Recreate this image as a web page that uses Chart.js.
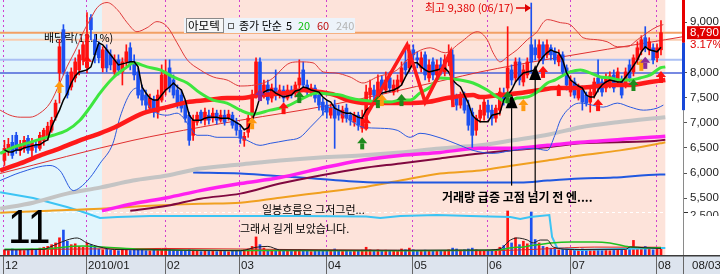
<!DOCTYPE html>
<html><head><meta charset="utf-8">
<script src="https://cdn.jsdelivr.net/npm/chart.js@4.4.1/dist/chart.umd.min.js"></script>
<style>html,body{margin:0;padding:0;background:#fff;}#wrap{width:720px;height:274px;position:relative;}</style>
</head><body><div id="wrap"><canvas id="c" width="720" height="274"></canvas></div>
<script>
// ---------------- DATA ----------------
const monthStartIdx=[0,21,41,60,82,104,123,144,166];
const monthLabels=['12','2010/01','02','03','04','05','06','07','08'];
const lastDateLabel='08/03';
const priceTicks=[5500,6000,6500,7000,7500,8000,9000];
const volTickLabel='2,500', volTickValue=2500;
const lastPrice=8790, lastChange='3.17%';
const highNote='최고 9,380 (06/17)';

const openP=[6250,6450,6610,6750,6450,6490,6690,6450,6550,6490,6650,6710,6850,7110,7990,8850,7950,7710,7890,8050,
8250,8250,9090,8650,8550,8090,8450,8350,8010,8250,8010,8210,8490,8210,8010,7650,7550,7290,7450,7210,
7450,7650,8090,7850,7650,7550,7350,7150,6750,7010,7210,7050,7150,7090,7190,7050,7150,7090,7150,7010,
6850,6650,6810,7150,7550,8210,7610,7750,7490,7690,7550,7650,7490,7650,7590,7750,8050,7750,7610,7690,
7550,7410,7350,7150,7350,7250,7090,7290,7150,7010,7150,6890,7050,7550,7650,7550,7850,7650,7890,7610,
7690,7810,8210,8090,8450,8290,8090,8350,7890,8210,7950,8150,8010,8210,8350,7490,7350,7550,7350,7210,
6850,7090,7150,7350,7250,7090,7250,7550,7690,8050,7890,8210,7810,7950,8550,8490,8290,8550,8350,8490,
8410,8210,8350,8090,7610,7810,7490,7650,7550,7410,7550,7890,7810,7690,7750,7950,7810,7850,7750,8150,
8010,8250,8450,8690,8450,8490,8290,8450];
const highP=[6650,6690,6750,6810,6650,6730,6750,6690,6650,6810,6890,7010,7110,7450,8650,8950,8010,8090,8290,8450,
8610,9190,9150,8750,8610,8510,8550,8450,8350,8350,8290,8550,8590,8350,8090,7750,7650,7570,7530,7650,
8150,8250,8250,7950,7750,7650,7450,7210,7150,7210,7250,7290,7250,7290,7250,7250,7250,7250,7210,7090,
6930,6810,7150,7650,8290,8290,7850,7850,7770,8050,7750,7730,7750,7730,7810,8250,8210,7850,7770,7750,
7610,7490,7450,7370,7450,7350,7330,7370,7210,7210,7210,7250,7750,7850,7750,7950,7930,8010,8010,7850,
7950,8210,8450,8550,8550,8410,8410,8410,8250,8290,8250,8290,8350,8550,8450,7570,7610,7610,7450,7290,
7150,7350,7490,7450,7350,7350,7690,7690,8910,8150,8290,8290,8150,8290,9380,8650,8650,8610,8650,8550,
8490,8450,8410,8150,7930,7890,7770,7730,7610,7690,7890,8250,7890,7970,8010,8050,8090,7930,8090,8250,
8350,8610,8730,8910,8690,8570,8570,9030];
const lowP=[6150,6350,6290,6390,6350,6410,6390,6250,6410,6450,6550,6650,6810,7050,7390,7950,7490,7650,7810,7950,
8150,7990,8650,8190,8190,8010,8010,8050,7930,7950,7750,8130,8050,7850,7490,7350,7250,7210,7110,7090,
7410,7550,7610,7490,7290,7210,7010,6550,6650,6950,6990,6950,6970,7010,6970,7010,6950,7050,6890,6750,
6590,6530,6710,7090,7490,7450,7490,7370,7410,7450,7490,7410,7450,7490,7510,7690,7690,7550,7530,7410,
7250,7150,7090,7090,6490,7050,7010,7010,6950,6930,6850,6810,6850,7450,7450,7490,7550,7590,7610,7550,
7610,7750,7950,8010,8250,8090,8010,7850,7810,7850,7890,7950,7930,8130,7350,7250,7290,7190,6850,6510,
6750,7010,7050,7090,6950,7010,7150,7350,7610,7750,7810,7750,7730,7890,7990,8250,8210,8170,8290,8250,
8170,8130,7930,7650,7530,7490,7450,7250,7330,7210,7490,7610,7530,7610,7690,7610,7750,7490,7690,7810,
7930,8170,8350,8410,8350,8170,8210,8350];
const closeP=[6490,6570,6350,6450,6530,6650,6450,6610,6510,6750,6850,6930,7050,7390,8510,8010,7550,8010,8210,8350,
8550,8750,8850,8350,8290,8450,8090,8150,8250,8050,8210,8410,8150,7950,7550,7450,7350,7490,7210,7550,
7950,8010,7690,7550,7350,7290,7090,6650,7050,7150,7050,7210,7050,7190,7050,7150,7010,7170,6950,6850,
6690,6730,7090,7550,8210,7550,7750,7450,7690,7550,7650,7490,7650,7550,7750,7890,7750,7610,7690,7490,
7350,7250,7210,7290,7090,7150,7250,7090,7050,7150,6950,7090,7610,7690,7550,7810,7650,7850,7690,7750,
7850,8090,8050,8410,8350,8250,8290,7950,8150,7950,8150,8010,8250,8350,7450,7350,7550,7250,6950,6750,
7090,7250,7410,7210,7090,7290,7610,7450,8090,7850,8210,7850,8050,8210,8210,8350,8550,8250,8550,8350,
8250,8350,8010,7750,7850,7550,7690,7410,7390,7610,7810,7690,7610,7890,7930,7690,8010,7550,8010,7890,
8290,8490,8650,8490,8610,8250,8490,8790];
const volumes=[300,250,350,280,320,260,300,350,280,400,450,500,600,700,1000,1450,800,600,650,500,450,
700,600,450,350,300,350,280,300,250,320,280,260,300,350,280,250,240,300,260,350,
400,300,280,260,250,270,300,280,220,200,240,210,230,200,220,210,190,230,250,
280,300,350,500,1050,600,400,300,280,350,250,220,230,210,240,300,280,220,200,230,250,260,
250,220,350,240,210,230,200,220,250,280,450,300,260,300,250,280,240,220,260,350,300,400,
300,260,240,280,250,230,220,240,260,300,400,350,280,300,350,400,300,250,260,
280,300,320,450,550,2560,700,1000,600,800,650,2500,900,700,500,450,400,350,300,350,400,
320,300,280,350,300,280,320,300,260,280,250,300,280,350,300,380,850,450,400,500,350,300,
350,420];
const ma5=[6460,6420,6420,6460,6460,6500,6520,6540,6560,6560,6620,6660,6920,7090,7250,7450,7590,7790,7930,8010,
8030,8050,8110,8350,8590,8550,8450,8350,8250,8150,8170,8190,8210,8210,8110,7710,7590,7490,7450,7450,
7550,7650,7710,7790,7710,7650,7450,7150,7050,7050,7050,7090,7110,7110,7110,7090,7090,7090,7050,7000,
6960,6860,6900,7050,7250,7510,7610,7650,7650,7590,7550,7510,7530,7550,7630,7650,7710,7690,7650,7630,
7610,7510,7450,7410,7290,7250,7210,7190,7190,7150,7110,7090,7250,7310,7390,7490,7590,7610,7630,7650,
7690,7750,7910,8050,8190,8190,8110,8050,8010,8030,8050,8070,8090,8010,7850,7770,7710,7550,7390,7150,
7070,7020,7020,7020,7150,7170,7190,7450,7550,7650,7810,7910,7990,8010,8030,8050,8210,8310,8390,8450,
8410,8390,8250,7990,7850,7790,7730,7690,7550,7510,7510,7650,7750,7810,7850,7830,7810,7810,7910,8010,
8130,8250,8410,8510,8450,8430,8410,8500];
const ma20=[{x:-1.1,y:6390},{x:2.2,y:6510},{x:6.5,y:6610},{x:9.8,y:6690},{x:12.4,y:6750},{x:15.9,y:6850},{x:19.2,y:7050},{x:21.8,y:7310},{x:24.3,y:7590},{x:27.6,y:7890},{x:31.2,y:8110},{x:32.7,y:8190},{x:36.3,y:8110},{x:39.6,y:8050},{x:42.9,y:7910},{x:46.5,y:7790},{x:49.8,y:7590},{x:53.1,y:7450},{x:56.6,y:7390},{x:60,y:7250},{x:63.3,y:7170},{x:67.6,y:7250},{x:71.9,y:7330},{x:76,y:7490},{x:79.5,y:7590},{x:82.8,y:7570},{x:85.4,y:7550},{x:87.9,y:7490},{x:90.5,y:7450},{x:98.1,y:7410},{x:100.7,y:7450},{x:103.2,y:7450},{x:105.7,y:7590},{x:108.3,y:7710},{x:110.8,y:7890},{x:115.9,y:7850},{x:119.2,y:7790},{x:122.8,y:7650},{x:125.3,y:7510},{x:127.9,y:7410},{x:130.4,y:7490},{x:133,y:7510},{x:135.5,y:7610},{x:138.1,y:7790},{x:140.1,y:7850},{x:141.4,y:7910},{x:143.9,y:8010},{x:146.5,y:8050},{x:149,y:7990},{x:151.6,y:7910},{x:154.1,y:7890},{x:156.6,y:7850},{x:159.2,y:7850},{x:161.7,y:7890},{x:164.3,y:7950},{x:166.8,y:8090},{x:168.1,y:8110}];
const ma60=[{x:-1.1,y:6050},{x:4,y:6190},{x:9.1,y:6350},{x:14.1,y:6490},{x:19.2,y:6650},{x:24.3,y:6790},{x:28.1,y:6910},{x:35.3,y:7190},{x:41.4,y:7310},{x:46.5,y:7410},{x:51.6,y:7450},{x:56.6,y:7490},{x:60,y:7490},{x:65,y:7550},{x:71.9,y:7590},{x:76,y:7650},{x:80.3,y:7610},{x:84.1,y:7550},{x:87.2,y:7450},{x:92.3,y:7390},{x:97.4,y:7390},{x:102.4,y:7390},{x:107.5,y:7410},{x:112.6,y:7490},{x:119.2,y:7550},{x:121,y:7510},{x:126.1,y:7550},{x:131.2,y:7590},{x:136.3,y:7650},{x:140.1,y:7690},{x:143.9,y:7690},{x:149,y:7710},{x:154.1,y:7750},{x:159.2,y:7750},{x:164.3,y:7810},{x:168.1,y:7850}];
const ma240=[{x:-1.1,y:5290},{x:7.3,y:5410},{x:15.9,y:5590},{x:24.3,y:5710},{x:32.7,y:5850},{x:41.4,y:5950},{x:49.8,y:6090},{x:60,y:6170},{x:70.1,y:6250},{x:80.3,y:6310},{x:90.5,y:6350},{x:100.7,y:6410},{x:110.8,y:6490},{x:121,y:6550},{x:129.4,y:6650},{x:138.8,y:6770},{x:146.5,y:6910},{x:155.9,y:7010},{x:168.1,y:7110}];
const ma120=[{x:24.8,y:5250},{x:32.7,y:5390},{x:41.4,y:5510},{x:49.8,y:5650},{x:60,y:5790},{x:70.1,y:5910},{x:80.3,y:6090},{x:90.5,y:6250},{x:100.7,y:6350},{x:110.8,y:6410},{x:121,y:6490},{x:129.4,y:6490},{x:138.1,y:6550},{x:146.5,y:6610},{x:164.3,y:6710},{x:168.1,y:6730}];
const maMaroon=[{x:32,y:5250},{x:41.4,y:5350},{x:49.8,y:5490},{x:60,y:5590},{x:70.1,y:5790},{x:80.3,y:5950},{x:90.5,y:6090},{x:100.7,y:6190},{x:110.8,y:6290},{x:121,y:6390},{x:128.7,y:6450},{x:138.1,y:6510},{x:146.5,y:6590},{x:164.3,y:6630},{x:168.1,y:6660}];
const maOrange=[{x:-1.1,y:5210},{x:11.6,y:5250},{x:24.3,y:5290},{x:37,y:5350},{x:49.8,y:5390},{x:60,y:5410},{x:70.1,y:5510},{x:80.3,y:5610},{x:90.5,y:5710},{x:100.7,y:5850},{x:110.8,y:5990},{x:121,y:6050},{x:129.4,y:6150},{x:138.1,y:6250},{x:146.5,y:6350},{x:156.6,y:6450},{x:166.8,y:6590},{x:168.1,y:6610}];
const maBlue=[{x:48,y:6010},{x:60,y:5990},{x:67.6,y:5950},{x:75.2,y:5910},{x:85.4,y:5850},{x:95.6,y:5810},{x:105.7,y:5810},{x:121,y:5810},{x:131.2,y:5810},{x:138.1,y:5850},{x:146.5,y:5890},{x:154.9,y:5910},{x:166.8,y:5970},{x:168.1,y:5970}];
const envUpper=[{x:-1.1,y:5990},{x:32.7,y:6650},{x:49.8,y:6910},{x:60,y:7050},{x:82.8,y:7350},{x:112.1,y:7850},{x:121,y:8010},{x:138.8,y:8270},{x:168.1,y:8650},{x:172.6,y:8710}];
const bbUpper=[{x:-1.1,y:7250},{x:1.4,y:7150},{x:4,y:7110},{x:6.5,y:7110},{x:9,y:7190},{x:11.6,y:7390},{x:14.1,y:7790},{x:15.9,y:8110},{x:18.5,y:8510},{x:20,y:8790},{x:21.8,y:9050},{x:23.6,y:9290},{x:26.1,y:9390},{x:28.7,y:9250},{x:31.2,y:8990},{x:33.7,y:8810},{x:36.3,y:8890},{x:38.8,y:9010},{x:41.4,y:8910},{x:43.9,y:8590},{x:46.5,y:8250},{x:49.8,y:8050},{x:53.1,y:7910},{x:56.6,y:7850},{x:60,y:7730},{x:67.6,y:7850},{x:72.7,y:8190},{x:75.2,y:8210},{x:78.5,y:8190},{x:81.1,y:8010},{x:84.1,y:7990},{x:87.9,y:7910},{x:91.2,y:7790},{x:94.8,y:7910},{x:99.9,y:8050},{x:103.2,y:8310},{x:105,y:8410},{x:108.3,y:8490},{x:112.1,y:8390},{x:115.9,y:8590},{x:120.3,y:8810},{x:122.8,y:8650},{x:124.3,y:8390},{x:126.1,y:8210},{x:127.9,y:8310},{x:130.4,y:8450},{x:133,y:8650},{x:135.5,y:8810},{x:137,y:8990},{x:138.1,y:9050},{x:141.4,y:8990},{x:143.9,y:8950},{x:145.7,y:8810},{x:147.2,y:8690},{x:150.8,y:8650},{x:153.3,y:8610},{x:155.9,y:8510},{x:158.4,y:8510},{x:161,y:8650},{x:163.5,y:8790},{x:166,y:8910},{x:167.6,y:8950}];
const bbLower=[{x:-1.1,y:5850},{x:4,y:6010},{x:11.6,y:6150},{x:14.1,y:6050},{x:17.5,y:5650},{x:19.2,y:5710},{x:21.8,y:5910},{x:24.3,y:6190},{x:27.6,y:6590},{x:29.4,y:7110},{x:32,y:7590},{x:33.7,y:7690},{x:35.3,y:7550},{x:37,y:7310},{x:38.8,y:7190},{x:41.4,y:7150},{x:43.9,y:7190},{x:45.4,y:7110},{x:47.7,y:6850},{x:49,y:6750},{x:51.6,y:6750},{x:54.1,y:6710},{x:60,y:6710},{x:61.7,y:6650},{x:65,y:6550},{x:67.6,y:6590},{x:71.9,y:6650},{x:75.2,y:6710},{x:77.8,y:6910},{x:80.3,y:7110},{x:82.8,y:7310},{x:87.9,y:7050},{x:91.2,y:6910},{x:95.6,y:6890},{x:99.9,y:6850},{x:103.2,y:6710},{x:105.7,y:6790},{x:110.8,y:6700},{x:115.9,y:6550},{x:119.2,y:6450},{x:124.3,y:6390},{x:129.2,y:6450},{x:134.5,y:6490},{x:138.1,y:6450},{x:140,y:6750},{x:141.4,y:7050},{x:144.7,y:7350},{x:146.5,y:7390},{x:149.5,y:7350},{x:152.3,y:7310},{x:155.9,y:7390},{x:159.2,y:7310},{x:162.5,y:7250},{x:166,y:7290},{x:167.6,y:7350}];
const patternLine=[{x:91.8,y:7110},{x:102.4,y:8550},{x:107,y:7410},{x:113.4,y:8390},{x:114.1,y:7310}];
const volMa5=[{x:0,y:300},{x:10,y:330},{x:11.6,y:465},{x:15.9,y:870},{x:18.5,y:990},{x:21,y:700},{x:24.3,y:465},{x:28,y:320},{x:40,y:300},{x:60,y:250},{x:64,y:450},{x:67,y:500},{x:70,y:300},{x:100,y:280},{x:122,y:290},{x:126,y:350},{x:128.7,y:870},{x:130.4,y:990},{x:133,y:870},{x:134.5,y:700},{x:136.3,y:870},{x:138.1,y:870},{x:139.6,y:460},{x:145,y:320},{x:158,y:330},{x:159.2,y:470},{x:163,y:420},{x:167,y:380}];
const volMa20=[{x:0,y:330},{x:10,y:360},{x:20,y:520},{x:25,y:470},{x:35,y:330},{x:60,y:260},{x:100,y:250},{x:123,y:270},{x:126,y:300},{x:129,y:420},{x:132,y:470},{x:135,y:580},{x:139,y:700},{x:144,y:760},{x:150,y:760},{x:154,y:700},{x:159,y:470},{x:167,y:420}];
const volMa60=[{x:0,y:300},{x:40,y:380},{x:80,y:300},{x:123,y:250},{x:135,y:330},{x:150,y:460},{x:167,y:450}];
const cyanLine=[{x:-1.1,y:3650},{x:7.3,y:3310},{x:15.9,y:2790},{x:20,y:2500},{x:24.3,y:2150},{x:28.7,y:2210},{x:37,y:2270},{x:50,y:2270},{x:60,y:2270},{x:75,y:2270},{x:92,y:2240},{x:95.6,y:2150},{x:100.7,y:2270},{x:110,y:2320},{x:118.5,y:2270},{x:128.7,y:2210},{x:131.2,y:2090},{x:133.7,y:2210},{x:138.6,y:2320},{x:139.3,y:1050},{x:140.6,y:410},{x:146.5,y:290},{x:166.8,y:410},{x:168.1,y:410}];
const levelPrices=[8790,8650,8250,7990];
const signalIdx=[14,21,63,65,71,75,91,92,95,96,101,128,132,137,141,151,160,162,163,167];
const signalPrice=[7710,8210,6990,7550,7290,7510,6590,6990,7410,7450,7450,7510,7350,8010,7650,7350,7750,8150,8190,7910];
const signalKind=['o','r','o','p','r','g','g','r','g','o','g','g','o','r','r','r','g','o','p','r'];
const peakIdx=[129,135], peakTip=[7570,8150], peakBase=[7290,7850], peakLineEnd=[5750,5620];
const axisBandRed=[8590,9440], axisBandBlue=[7250,8590];

// ---------------- STYLE ----------------
const UP='#ff1010', DN='#1c50f0';
const KF='"Noto Sans CJK KR", sans-serif';
const NF='"Liberation Sans", Arial, sans-serif';
const bgSplitIdx=24.8, bgEndIdx=168.1;
const levelColors=['#f2a064','#f9cdb0','#aabff4','#4a62d8'];
const levelWidths=[2,2,2,1.5];
const sigColors={o:'#ff9a10',r:'#ff1010',g:'#1e8a1e',p:'#8a2a9a'};
const cColor=c=>closeP[c.dataIndex]>=openP[c.dataIndex]?UP:DN;

const line=(data,color,w,order,axis,tension)=>({type:'line',data,borderColor:color,borderWidth:w,pointRadius:0,fill:false,order,yAxisID:axis||'y',tension:tension||0,cubicInterpolationMode:tension?'monotone':'default'});

function arrow(ctx,x,y,col){
  ctx.fillStyle=col;
  ctx.beginPath();ctx.moveTo(x-5,y);ctx.lineTo(x,y-6);ctx.lineTo(x+5,y);ctx.closePath();ctx.fill();
  ctx.fillRect(x-2,y,4,6);
}

const deco={
  id:'deco',
  beforeDatasetsDraw(chart){
    const {ctx,chartArea:a,scales:{x,y,yv}}=chart;
    ctx.save();
    ctx.beginPath();ctx.rect(a.left,a.top,a.right-a.left,a.bottom-a.top);ctx.clip();
    ctx.fillStyle='#fff';ctx.fillRect(a.left,a.top,a.right-a.left,a.bottom-a.top);
    const xs=x.getPixelForValue(bgSplitIdx), xe=x.getPixelForValue(bgEndIdx);
    ctx.fillStyle='#e2f5fc';ctx.fillRect(a.left,a.top,xs-a.left,a.bottom-a.top);
    ctx.fillStyle='#fde3da';ctx.fillRect(xs,a.top,xe-xs,a.bottom-a.top);
    // volume pane separator
    ctx.strokeStyle='#ffffff';ctx.lineWidth=1;ctx.setLineDash([3,3]);
    const vy=Math.round(yv.getPixelForValue(volTickValue))+0.5;
    ctx.beginPath();ctx.moveTo(a.left,vy);ctx.lineTo(a.right,vy);ctx.stroke();
    // month dotted lines
    ctx.strokeStyle='#d040d0';ctx.setLineDash([2,3]);
    monthStartIdx.forEach(i=>{const px=Math.round(x.getPixelForValue(i))-0.5;ctx.beginPath();ctx.moveTo(px,a.top);ctx.lineTo(px,a.bottom);ctx.stroke();});
    ctx.setLineDash([]);
    // level lines
    levelPrices.forEach((p,k)=>{ctx.strokeStyle=levelColors[k];ctx.lineWidth=levelWidths[k];const py=y.getPixelForValue(p);ctx.beginPath();ctx.moveTo(a.left,py);ctx.lineTo(a.right,py);ctx.stroke();});
    // note text behind candles
    ctx.fillStyle='#000';ctx.font='11px '+KF;ctx.textBaseline='middle';
    ctx.fillText('배당락(12.1%)',44,38);
    ctx.restore();
  },
  afterDatasetsDraw(chart){
    const {ctx,chartArea:a,scales:{x,y}}=chart;
    ctx.save();
    ctx.beginPath();ctx.rect(a.left,a.top,a.right-a.left,a.bottom-a.top);ctx.clip();
    // black peak markers
    peakIdx.forEach((i,k)=>{
      const px=x.getPixelForValue(i), t=y.getPixelForValue(peakTip[k]), b=y.getPixelForValue(peakBase[k]), e=y.getPixelForValue(peakLineEnd[k]);
      ctx.fillStyle='#000';ctx.beginPath();ctx.moveTo(px-6,b);ctx.lineTo(px,t);ctx.lineTo(px+6,b);ctx.closePath();ctx.fill();
      ctx.strokeStyle='#000';ctx.lineWidth=1.2;ctx.beginPath();ctx.moveTo(px,b);ctx.lineTo(px,e);ctx.stroke();
    });
    signalIdx.forEach((i,k)=>arrow(ctx,x.getPixelForValue(i),y.getPixelForValue(signalPrice[k]),sigColors[signalKind[k]]));
    // legend
    ctx.fillStyle='#edf3fa';ctx.fillRect(184,18,171,15);
    ctx.fillStyle='#f7f7f7';ctx.fillRect(186,18,38,15);
    ctx.strokeStyle='#8a8a8a';ctx.lineWidth=1;ctx.strokeRect(186.5,18.5,37,14);
    ctx.strokeStyle='#606060';ctx.strokeRect(228.5,23.5,5,5);
    ctx.textBaseline='middle';ctx.font='11.5px '+KF;
    ctx.fillStyle='#000';ctx.fillText('아모텍',188,25.5);
    ctx.font='11px '+KF;ctx.fillText('종가 단순',239,25.5);
    ctx.fillText('5',286,25.5);
    ctx.fillStyle='#10c010';ctx.fillText('20',298,25.5);
    ctx.fillStyle='#c01010';ctx.fillText('60',317,25.5);
    ctx.fillStyle='#b4b4b4';ctx.fillText('240',336,25.5);
    // high note
    ctx.fillStyle='#e00000';ctx.font='11px '+KF;ctx.fillText(highNote,425,8);
    ctx.strokeStyle='#e00000';ctx.lineWidth=1.5;ctx.beginPath();ctx.moveTo(516,8);ctx.lineTo(530,8);ctx.stroke();
    ctx.beginPath();ctx.moveTo(531,8);ctx.lineTo(525,4);ctx.lineTo(525,12);ctx.closePath();ctx.fill();
    // comments
    ctx.fillStyle='#000';ctx.font='11px '+KF;
    ctx.fillText('일봉흐름은 그저그런...',262,210);
    ctx.fillText('그래서 길게 보았습니다.',240,229);
    ctx.font='bold 12px '+KF;ctx.fillText('거래량 급증 고점 넘기 전 엔....',442,197);
    ctx.save();ctx.translate(8,243);ctx.scale(0.85,1);ctx.font='48px '+NF;ctx.textBaseline='alphabetic';ctx.fillText('11',0,0);ctx.restore();
    ctx.restore();
  },
  afterDraw(chart){
    const {ctx,chartArea:a,scales:{x,y,yv}}=chart;
    ctx.save();
    // axis border
    ctx.fillStyle='#8a8a8a';ctx.fillRect(a.right,a.top,1,a.bottom-a.top);
    const r0=y.getPixelForValue(axisBandRed[1]), r1=y.getPixelForValue(axisBandRed[0]), b1=y.getPixelForValue(axisBandBlue[0]);
    ctx.fillStyle='#e80000';ctx.fillRect(a.right-1,r0,3,r1-r0);
    ctx.fillStyle='#1848d8';ctx.fillRect(a.right-1,r1,3,b1-r1);
    // last price box
    const py=y.getPixelForValue(lastPrice);
    ctx.fillStyle='#e00000';ctx.fillRect(687,py-6.5,33,13);
    ctx.fillStyle='#fff';ctx.font='11.5px '+NF;ctx.textBaseline='middle';ctx.fillText(lastPrice.toLocaleString('en-US'),690,py+0.5);
    ctx.fillStyle='#e00000';ctx.fillText(lastChange,690,py+12);
    // cut volume label
    const vy=yv.getPixelForValue(volTickValue);
    ctx.save();ctx.beginPath();ctx.rect(684,vy-8,36,12);ctx.clip();
    ctx.fillStyle='#303030';ctx.fillText(volTickLabel,690,vy+4);
    ctx.fillRect(684,Math.round(vy),4,1);ctx.restore();
    // bottom axis band
    ctx.fillStyle='#dde4ee';ctx.fillRect(0,a.bottom,720,274-a.bottom);
    ctx.fillStyle='#3c3c3c';ctx.fillRect(0,a.bottom,720,1.5);
    ctx.font='11.5px '+NF;ctx.textBaseline='middle';
    monthStartIdx.forEach((i,k)=>{
      const px=Math.round(x.getPixelForValue(i));
      ctx.fillStyle='#666';ctx.fillRect(px-1,a.bottom+1,1,274-a.bottom);
      ctx.fillStyle='#1a1a1a';ctx.fillText(monthLabels[k],px+1,265.5);
    });
    ctx.fillStyle='#666';ctx.fillRect(a.right,a.bottom+1,1,274-a.bottom);
    ctx.fillStyle='#1a1a1a';ctx.fillText(lastDateLabel,692,265.5);
    ctx.restore();
  }
};

const bodies=openP.map((o,i)=>({x:i,y:[o,closeP[i]]}));
const wicks=lowP.map((l,i)=>({x:i,y:[l,highP[i]]}));
const vols=volumes.map((v,i)=>({x:i,y:v}));
const ma5pts=ma5.map((v,i)=>({x:i,y:v}));

new Chart(document.getElementById('c'),{
  type:'bar',
  data:{datasets:[
    {type:'bar',data:vols,yAxisID:'yv',backgroundColor:cColor,barThickness:2,grouped:false,order:100,borderWidth:0},
    line(cyanLine,'#3cc4f4',2,96,'yv'),
    line(volMa60,'#e02020',1,95,'yv',0.4),
    line(volMa20,'#20c020',1.5,94,'yv',0.4),
    line(volMa5,'#202020',1,93,'yv',0.4),
    line(maOrange,'#f0a020',2,90,'y',0.4),
    line(maBlue,'#2058e0',2,89,'y',0.4),
    line(ma240,'#c4c4c4',4,88,'y',0.4),
    line(maMaroon,'#800840',2,87,'y',0.4),
    line(ma120,'#ff20f0',3.5,86,'y',0.4),
    line(envUpper,'#e03030',1,85,'y',0.4),
    {type:'bar',data:wicks,yAxisID:'y',backgroundColor:cColor,barThickness:1,grouped:false,order:61,borderWidth:0,minBarLength:1},
    {type:'bar',data:bodies,yAxisID:'y',backgroundColor:cColor,barThickness:3,grouped:false,order:60,borderWidth:0,minBarLength:1},
    line(bbLower,'#2a5ae0',1,52,'y',0.4),
    line(bbUpper,'#e03a3a',1,51,'y',0.4),
    line(ma60,'#ff1a1a',4.5,40,'y',0.4),
    line(ma20,'#3ee63e',3,30,'y',0.4),
    line(ma5pts,'#000000',1.5,20,'y'),
    line(patternLine,'#ff1a1a',3.5,10,'y')
  ]},
  options:{
    responsive:false,animation:false,devicePixelRatio:1,
    layout:{padding:{left:0,right:0,top:0,bottom:19}},
    plugins:{legend:{display:false},tooltip:{enabled:false}},
    scales:{
      x:{type:'linear',min:-1.13,max:172.6,display:false,offset:false},
      y:{type:'linear',position:'right',min:4370,max:9440,
        afterBuildTicks:s=>{s.ticks=priceTicks.map(v=>({value:v}));},
        afterFit:s=>{s.width=37;s.paddingTop=0;s.paddingBottom=0;},
        ticks:{autoSkip:false,padding:3,color:'#222',font:{family:'Liberation Sans',size:11.5},callback:v=>Number(v).toLocaleString('en-US')},
        grid:{drawOnChartArea:false,tickLength:4,color:'#555'},
        border:{display:true,color:'#8a8a8a'}},
      yv:{type:'linear',display:false,min:0,max:14826}
    }
  },
  plugins:[deco]
});
</script></body></html>
